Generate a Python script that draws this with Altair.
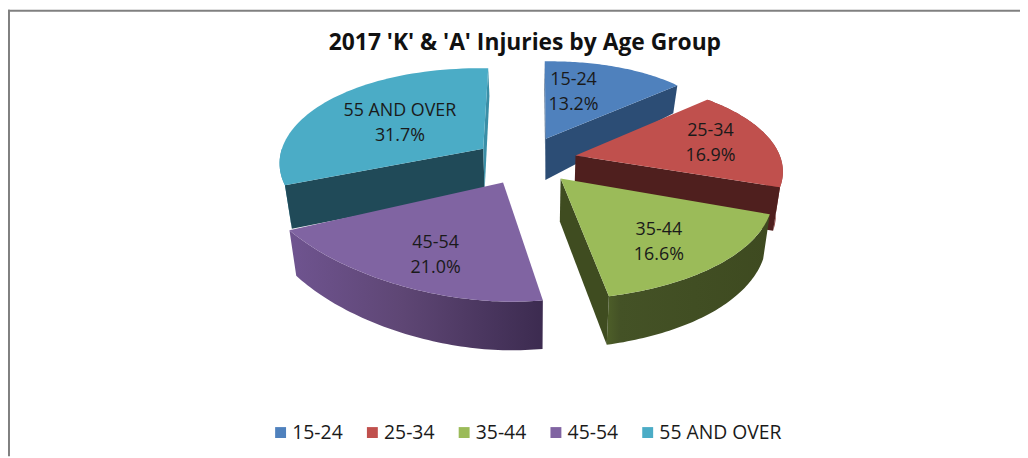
import numpy as np
import pandas as pd
import altair as alt

# ---- values
categories = ["15-24", "25-34", "35-44", "45-54", "55 AND OVER"]
percents = [13.2, 16.9, 16.6, 21.0, 31.7]
title_text = "2017 'K' & 'A' Injuries by Age Group"

# ---- colours
top_colors = ["#4f81bd", "#c0504d", "#9bbb59", "#8064a2", "#4bacc6"]
start_wall = ["#2c4d75", None, None, None, None]
end_wall = ["#2c4d75", "#4f1f1e", "#3f4c20", None, "#3a8ea6"]
wall_5 = "#204a58"
outer_wall = [None, "#8c3a38", None, None, "#3f93ab"]
outer_grad = {
    2: [(0, "#4e5f29"), (0.08, "#445226"), (1, "#3e4a20")],
    3: [(0, "#6f5490"), (0.45, "#5e4674"), (1, "#3c2b50")],
}

# ---- 3-D projection layout of each exploded slice (not data)
apex = [(544, 138), (574, 155), (559, 178), (501, 182), (481, 148)]
rad_a = [(179, 179), (179, 218), (223, 258), (202, 235), (164, 164)]
rad_b = [(78, 80), (84, 98), (111, 121), (121, 115), (88, 81)]
shift = [(-1, 0), (0, 0), (0, 0), (2, -2), (-51, 5)]
label_xy = [(572, 79), (710, 130), (658, 230), (433, 243), (397, 110)]
draw_order = [4, 0, 1, 3, 2]

fractions = np.array(percents) / sum(percents)
edges = np.concatenate([[0], np.cumsum(fractions)]) * 2 * np.pi


def depth(y):
    return np.interp(y, [84, 140, 190, 300], [28, 42, 44, 49])


def lower(x, y):
    return x - (x - 530) * 0.028, y + depth(y)


def arc(i, n=60):
    t = np.linspace(edges[i], edges[i + 1], n)
    u = np.linspace(0, 1, n)
    a = rad_a[i][0] + (rad_a[i][1] - rad_a[i][0]) * u
    b = rad_b[i][0] + (rad_b[i][1] - rad_b[i][0]) * u
    s = shift[i][0] + (shift[i][1] - shift[i][0]) * u
    return apex[i][0] + a * np.sin(t) + s, apex[i][1] - b * np.cos(t)


def edge_wall(i, xs, ys, k):
    ax, ay = apex[i]
    ex, ey = xs[k], ys[k]
    return [(ax, ay), (ex, ey), lower(ex, ey), lower(ax, ay)]


def outer(i, xs, ys):
    bx, by = lower(xs, ys)
    return list(zip(xs, ys)) + list(zip(bx[::-1], by[::-1]))


def sliver(xs, ys, k):
    return list(zip(xs[:k], ys[:k]))[::-1] + [lower(xs[0], ys[0])]


X = alt.X("sx:Q", scale=alt.Scale(domain=[2, 1022]), axis=None)
Y = alt.Y("sy:Q", scale=alt.Scale(domain=[458, 8]), axis=None)
XO = alt.Order("i:Q")


def poly(points, fill):
    df = pd.DataFrame(points, columns=["sx", "sy"])
    df["i"] = range(len(df))
    return alt.Chart(df).mark_line(fill=fill, stroke=None, strokeWidth=0, opacity=1).encode(x=X, y=Y, order=XO)


def gradient(stops):
    return alt.LinearGradient(
        gradient="linear", x1=0, x2=1, y1=0, y2=0,
        stops=[alt.GradientStop(offset=o, color=c) for o, c in stops],
    )


layers = []
for i in draw_order:
    xs, ys = arc(i)
    if outer_wall[i]:
        layers.append(poly(sliver(xs, ys, 14) if i == 4 else outer(i, xs, ys), outer_wall[i]))
    if i in outer_grad:
        layers.append(poly(outer(i, xs, ys), gradient(outer_grad[i])))
    if start_wall[i]:
        layers.append(poly(edge_wall(i, xs, ys, 0), start_wall[i]))
    if i == 4:
        layers.append(poly(edge_wall(i, xs, ys, 0), wall_5))
    if end_wall[i]:
        layers.append(poly(edge_wall(i, xs, ys, -1), end_wall[i]))
    top = pd.DataFrame({"sx": np.r_[apex[i][0], xs], "sy": np.r_[apex[i][1], ys]})
    top["i"] = range(len(top))
    top["age"] = categories[i]
    layers.append(
        alt.Chart(top)
        .mark_line(strokeWidth=0, stroke=None)
        .encode(
            x=X, y=Y, order=XO,
            fill=alt.Fill(
                "age:N",
                scale=alt.Scale(domain=categories, range=top_colors),
                legend=alt.Legend(
                    title=None, orient="none", legendX=265, legendY=416, columns=5,
                    symbolType="square", symbolSize=121, symbolStrokeWidth=0,
                    labelFont="Open Sans", labelFontSize=19.5, labelColor="#1a1a1a",
                    labelOffset=2, columnPadding=19.5, symbolOffset=0,
                ),
            ),
        )
    )

labels = pd.DataFrame({
    "sx": [p[0] for p in label_xy],
    "sy": [p[1] for p in label_xy],
    "txt": [f"{c}\n{p:.1f}%" for c, p in zip(categories, percents)],
})
layers.append(
    alt.Chart(labels)
    .mark_text(font="Open Sans", fontSize=18, lineBreak="\n", lineHeight=25, color="#1a1a1a", baseline="middle")
    .encode(x=X, y=Y, text="txt:N")
)
layers.append(alt.Chart(pd.DataFrame({"a": [0]})).mark_rule(color="#808080", strokeWidth=2).encode(
    x=alt.value(0), x2=alt.value(1020), y=alt.value(1)))
layers.append(alt.Chart(pd.DataFrame({"a": [0]})).mark_rule(color="#808080", strokeWidth=2).encode(
    x=alt.value(1), y=alt.value(0), y2=alt.value(450)))

chart = (
    alt.layer(*layers)
    .properties(
        width=1020, height=450, padding=0,
        autosize=alt.AutoSizeParams(type="none"),
        title=alt.TitleParams(
            title_text, font="Open Sans", fontSize=23, fontWeight="bold", color="#111111",
            anchor="middle", dx=11, dy=51,
        ),
    )
    .configure_view(stroke=None)
)
chart.save("out.html", embed_options={"renderer": "svg", "actions": False})
